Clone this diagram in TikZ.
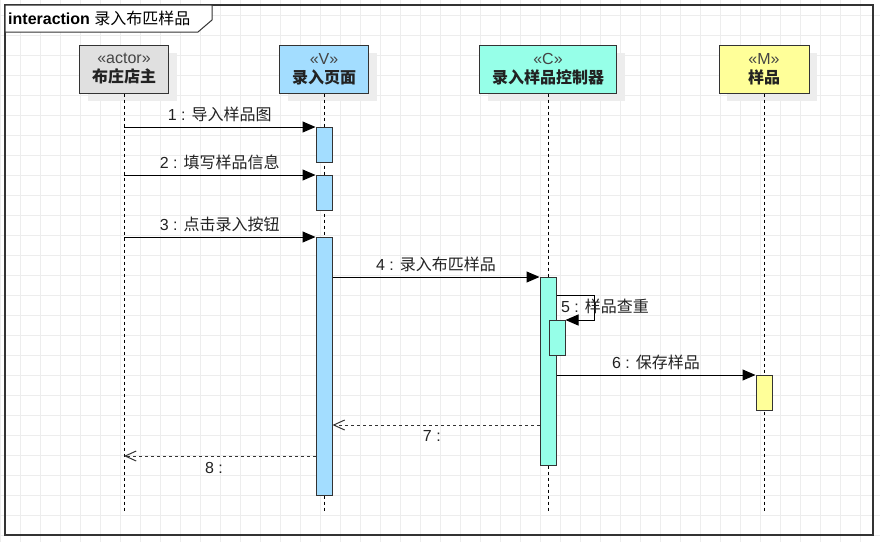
\documentclass[tikz,border=0pt]{standalone}
\usepackage{fontspec}
\setmainfont{Liberation Sans}
\newfontfamily\cjk{Noto Sans CJK SC}
\usetikzlibrary{arrows.meta,shadows}
\definecolor{vcol}{HTML}{A3DDFF}
\definecolor{ccol}{HTML}{96FFE8}
\definecolor{mcol}{HTML}{FFFF99}
\definecolor{acol}{HTML}{E0E0E0}
\definecolor{gridc}{HTML}{EDEDED}
\definecolor{linec}{HTML}{333333}
\definecolor{txt}{HTML}{222222}
\definecolor{stereo}{HTML}{444444}
\begin{document}
\begin{tikzpicture}[x=1pt,y=-1pt,
  font=\fontsize{16}{19}\selectfont,
  hdr/.style={draw=linec, line width=1pt, minimum height=48pt, inner sep=0pt,
    align=center, text=txt,
    general shadow={fill=black!7, shadow xshift=8pt, shadow yshift=-8pt}},
  act/.style={draw=linec, line width=1pt, minimum width=16pt, inner sep=0pt, anchor=north},
  life/.style={draw=black, line width=1pt, dash pattern=on 3pt off 3pt},
  msg/.style={draw=black, line width=1pt, -{Triangle[length=13pt,width=11pt]}},
  ret/.style={draw=linec, line width=1pt, dash pattern=on 3pt off 3pt,
    -{Straight Barb[length=11pt,width=10pt]}},
  lbl/.style={text=txt, inner sep=0pt}]
\useasboundingbox (0,0) rectangle (880,542);
\fill[white] (0,0) rectangle (880,542);
% grid
\foreach \x in {0,20,...,880} \draw[gridc, line width=0.8pt] (\x,0) -- (\x,542);
\foreach \y in {15,35,...,535} \draw[gridc, line width=0.8pt] (0,\y) -- (880,\y);
% frame
\draw[linec, line width=1.2pt] (5,5) rectangle (873,535);
\draw[linec, line width=1pt, fill=white] (5,5) -- (212,5) -- (212,20) -- (198,32) -- (5,32) -- cycle;
\node[lbl, anchor=west, text=black] (title) at (8,18.5) {\bfseries interaction {\mdseries\cjk 录入布匹样品}};
% headers
\node[hdr, fill=acol, minimum width=89pt] (actor) at (124,69) {{\color{stereo}«actor»}\\{\cjk\bfseries 布庄店主}};
\node[hdr, fill=vcol, minimum width=89pt] (view) at (324,69) {{\color{stereo}«V»}\\{\cjk\bfseries 录入页面}};
\node[hdr, fill=ccol, minimum width=137pt] (ctrl) at (548,69) {{\color{stereo}«C»}\\{\cjk\bfseries 录入样品控制器}};
\node[hdr, fill=mcol, minimum width=90pt] (model) at (764,69) {{\color{stereo}«M»}\\{\cjk\bfseries 样品}};
% lifelines
\coordinate (aE) at (124,512);
\coordinate (vE) at (324,512);
\coordinate (cE) at (548,512);
\coordinate (mE) at (764,512);
\draw[life] (actor.south) -- (aE);
\draw[life] (view.south) -- (vE);
\draw[life] (ctrl.south) -- (cE);
\draw[life] (model.south) -- (mE);
% activations
\node[act, fill=vcol, minimum height=35pt] (v1) at (324,127) {};
\node[act, fill=vcol, minimum height=35pt] (v2) at (324,175) {};
\node[act, fill=vcol, minimum height=258pt] (v3) at (324,237) {};
\node[act, fill=ccol, minimum height=188pt] (c1) at (548,277) {};
\node[act, fill=ccol, minimum height=35pt] (c2) at (557,320) {};
\node[act, fill=mcol, minimum height=35pt] (m1) at (764,375) {};
% messages
\draw[msg] (actor.south |- v1.north) -- node[lbl, midway, yshift=13pt] (l1) {1 : {\cjk 导入样品图}} (v1.north west);
\draw[msg] (actor.south |- v2.north) -- node[lbl, midway, yshift=13pt] (l2) {2 : {\cjk 填写样品信息}} (v2.north west);
\draw[msg] (actor.south |- v3.north) -- node[lbl, midway, yshift=13pt] (l3) {3 : {\cjk 点击录入按钮}} (v3.north west);
\draw[msg] (v3.east |- c1.north) -- node[lbl, midway, yshift=13pt] (l4) {4 : {\cjk 录入布匹样品}} (c1.north west);
\coordinate (s5) at (594,295);
\draw[msg] (c1.east |- s5) -- (s5) -- (s5 |- c2.north) -- (c2.north east);
\node[lbl] (l5) at (605,306) {5 : {\cjk 样品查重}};
\draw[msg] (c1.east |- m1.north) -- node[lbl, midway, yshift=13pt] (l6) {6 : {\cjk 保存样品}} (m1.north west);
\coordinate (r7) at (0,425);
\draw[ret] (c1.west |- r7) -- node[lbl, pos=0.52, yshift=-11pt] (l7) {7 :} (v3.east |- r7);
\coordinate (r8) at (0,456);
\draw[ret] (v3.west |- r8) -- node[lbl, pos=0.53, yshift=-12pt] (l8) {8 :} (actor.south |- r8);
\end{tikzpicture}
\end{document}
